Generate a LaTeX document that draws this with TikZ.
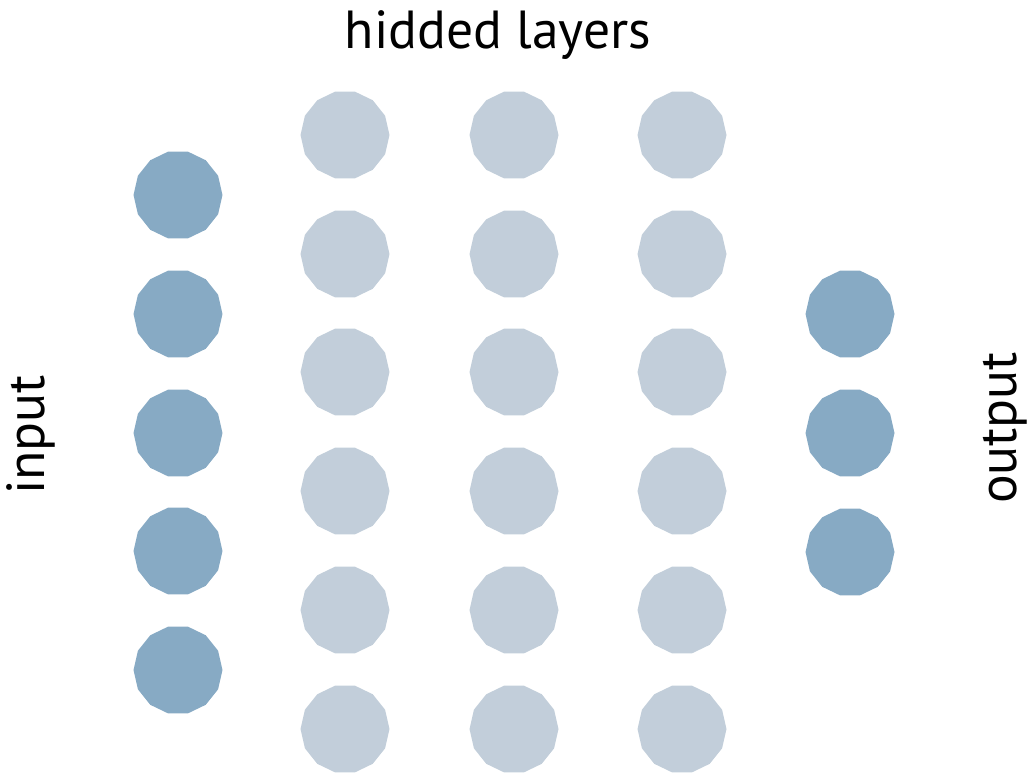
\documentclass[tikz,border=0pt]{standalone}
\usepackage{fontspec}
\setmainfont{PT Sans}
\usetikzlibrary{shapes.geometric}
\definecolor{darkn}{HTML}{87AAC4}
\definecolor{lightn}{HTML}{C2CEDA}
\tikzset{
  neuron/.style={regular polygon, regular polygon sides=14, inner sep=0pt, minimum size=1.78cm, draw=none},
  inp/.style={neuron, fill=darkn},
  hid/.style={neuron, fill=lightn},
  lbl/.style={font=\fontsize{30.5}{34}\selectfont, inner sep=0pt}
}
\begin{document}
\begin{tikzpicture}[x=0.02cm,y=-0.02cm]
\useasboundingbox (0,0) rectangle (1033,779);
% input layer
\foreach \i/\y in {1/195,2/314,3/433,4/551,5/670}
  \node[inp] (in\i) at (178,\y) {};
% hidden layers
\foreach \c/\x in {1/345,2/514,3/682}
  \foreach \i/\y in {1/135,2/254,3/372,4/491,5/610,6/729}
    \node[hid] (h\c\i) at (\x,\y) {};
% output layer
\foreach \i/\y in {1/314,2/433,3/552}
  \node[inp] (out\i) at (850,\y) {};
% labels
\node[lbl] (title) at (498,35) {hidded layers};
\node[lbl, rotate=90] (inlabel) at (31,435) {input};
\node[lbl, rotate=90] (outlabel) at (1005,428) {output};
\end{tikzpicture}
\end{document}
